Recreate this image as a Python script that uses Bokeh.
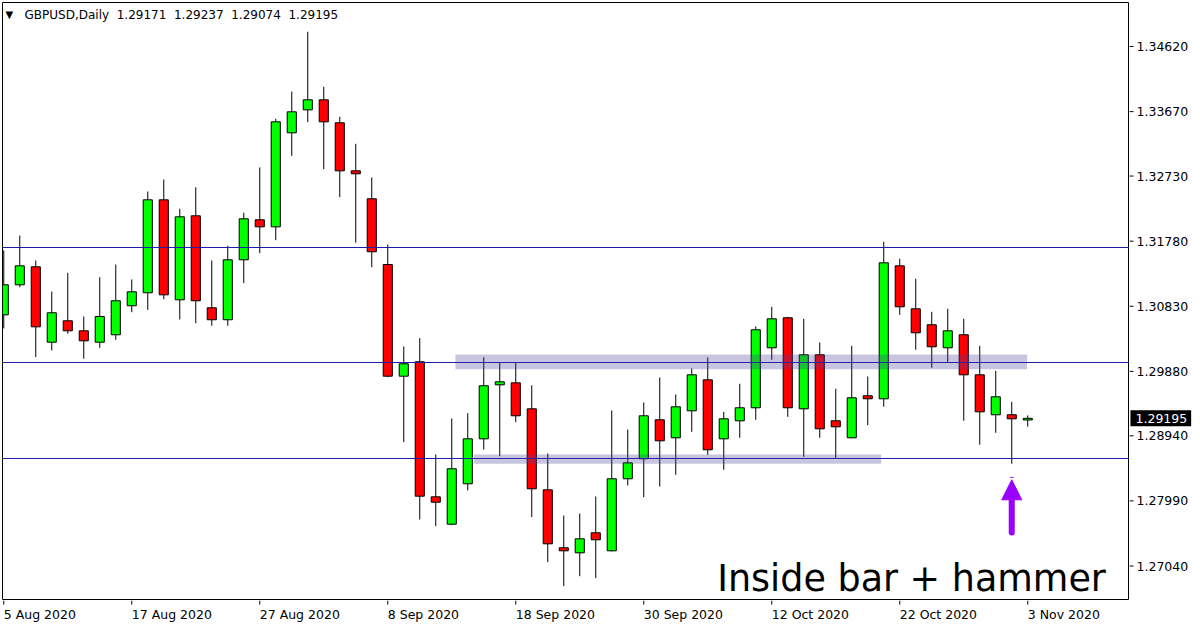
from bokeh.plotting import figure
from bokeh.layouts import column, row
from bokeh.models import (Range1d, BoxAnnotation, Label, Arrow, NormalHead,
                          ColumnDataSource)
from bokeh.core.properties import value
from bokeh.embed import file_html
from bokeh.resources import INLINE

# ---------------- data ----------------
symbol = "GBPUSD"
timeframe = "Daily"
tick_idx = [0, 8, 16, 24, 32, 40, 48, 56, 64]
tick_labels = ["5 Aug 2020", "17 Aug 2020", "27 Aug 2020", "8 Sep 2020", "18 Sep 2020",
               "30 Sep 2020", "12 Oct 2020", "22 Oct 2020", "3 Nov 2020"]
price_ticks = [1.27040, 1.27990, 1.28940, 1.29880, 1.30830, 1.31780, 1.32730, 1.33670, 1.34620]

opens = [1.30705, 1.31143, 1.31406, 1.30306, 1.30618, 1.30472, 1.30306, 1.30414, 1.30837, 1.31027,
         1.32383, 1.30924, 1.32150, 1.30808, 1.30633, 1.31508, 1.32092, 1.31989, 1.33361, 1.33696,
         1.33842, 1.33507, 1.32806, 1.32398, 1.31439, 1.29810, 1.30020, 1.28050, 1.27650, 1.28240,
         1.28896, 1.29684, 1.29713, 1.29334, 1.28152, 1.27306, 1.27233, 1.27525, 1.27262, 1.28313,
         1.28605, 1.29174, 1.28911, 1.29305, 1.29757, 1.28896, 1.29159, 1.29349, 1.30224, 1.30662,
         1.29334, 1.30122, 1.29159, 1.28911, 1.29524, 1.29480, 1.31420, 1.30793, 1.30560, 1.30224,
         1.30414, 1.29830, 1.29247, 1.29247, 1.29171]
highs = [1.31644, 1.31862, 1.31498, 1.31045, 1.31318, 1.30681, 1.31254, 1.31439, 1.31221, 1.32504,
         1.32680, 1.32252, 1.32567, 1.31498, 1.31712, 1.32194, 1.32855, 1.33565, 1.33963, 1.34835,
         1.34032, 1.33594, 1.33200, 1.32709, 1.31731, 1.30243, 1.30364, 1.28667, 1.29193, 1.29270,
         1.30087, 1.30005, 1.30005, 1.29678, 1.28682, 1.27777, 1.27806, 1.28055, 1.29309, 1.29032,
         1.29426, 1.29791, 1.29543, 1.29922, 1.30083, 1.29290, 1.29699, 1.30535, 1.30822, 1.30676,
         1.30647, 1.30301, 1.29626, 1.30253, 1.29805, 1.31771, 1.31523, 1.31231, 1.30749, 1.30793,
         1.30647, 1.30253, 1.29888, 1.29436, 1.29237]
lows = [1.30506, 1.31108, 1.30087, 1.30185, 1.30428, 1.30064, 1.30224, 1.30341, 1.30743, 1.30778,
        1.30933, 1.30637, 1.30583, 1.30545, 1.30545, 1.31167, 1.31604, 1.31794, 1.33025, 1.33516,
        1.32830, 1.32421, 1.31756, 1.31400, 1.29795, 1.28847, 1.27719, 1.27621, 1.27636, 1.28142,
        1.28740, 1.28643, 1.29139, 1.27753, 1.27096, 1.26746, 1.26892, 1.26863, 1.27252, 1.28215,
        1.28044, 1.28200, 1.28371, 1.28998, 1.28663, 1.28444, 1.28911, 1.29174, 1.30049, 1.29217,
        1.28634, 1.28911, 1.28605, 1.28905, 1.29095, 1.29363, 1.30705, 1.30195, 1.29932, 1.30005,
        1.29159, 1.28809, 1.28984, 1.28532, 1.29074]
closes = [1.31143, 1.31420, 1.30530, 1.30735, 1.30472, 1.30326, 1.30681, 1.30910, 1.31041, 1.32383,
          1.30997, 1.32135, 1.30910, 1.30633, 1.31508, 1.32106, 1.31989, 1.33521, 1.33667, 1.33842,
          1.33521, 1.32806, 1.32763, 1.31625, 1.29810, 1.29991, 1.28059, 1.27971, 1.28459, 1.28896,
          1.29670, 1.29728, 1.29232, 1.28167, 1.27364, 1.27262, 1.27437, 1.27423, 1.28313, 1.28546,
          1.29232, 1.28867, 1.29363, 1.29830, 1.28736, 1.29188, 1.29349, 1.30487, 1.30647, 1.29349,
          1.30122, 1.29042, 1.29071, 1.29495, 1.29480, 1.31464, 1.30822, 1.30443, 1.30239, 1.30472,
          1.29830, 1.29290, 1.29509, 1.29188, 1.29195]

level_lines = [1.31688, 1.30010, 1.28609]
zone_left = [28.23, 29.38]
zone_right = [63.96, 54.84]
zone_top = [1.30126, 1.28667]
zone_bottom = [1.29912, 1.28532]

note_text = "Inside bar + hammer"
note_x = 44.59
note_y = 1.26854
signal_bar = 63
arrow_tip = 1.28298
arrow_tail = 1.27529

# ---------------- styling ----------------
X_START, X_END = -0.08, 70.36
Y_START, Y_END = 1.26537, 1.35262
FONT = "DejaVu Sans"
UP, DOWN = "#00FF00", "#FF0000"
LEVEL = "#1C1CA8"
ZONE = "#4B3C96"
PURPLE = "#9900FF"

MAIN_W, MAIN_H = 1129, 600
AXIS_W, AXIS_H = 71, 27

idx = list(range(len(opens)))
src = ColumnDataSource(dict(
    x=idx, o=opens, h=highs, l=lows, c=closes,
    top=[max(a, b) for a, b in zip(opens, closes)],
    bot=[min(a, b) for a, b in zip(opens, closes)],
    col=[UP if c >= o else DOWN for o, c in zip(opens, closes)],
))

# ---------------- main chart ----------------
p = figure(width=MAIN_W, height=MAIN_H,
           x_range=Range1d(X_START, X_END), y_range=Range1d(Y_START, Y_END),
           x_axis_location=None, y_axis_location=None,
           output_backend="svg", toolbar_location=None,
           min_border_left=2, min_border_top=2, min_border_right=0, min_border_bottom=0)
p.grid.visible = False
p.outline_line_color = "black"
p.outline_line_width = 1
p.background_fill_color = "white"
p.border_fill_color = "white"

p.segment(x0="x", y0="l", x1="x", y1="h", source=src, line_color="black", line_width=1)
p.vbar(x="x", width=0.57, top="top", bottom="bot", source=src,
       fill_color="col", line_color="black", line_width=1)

for l_, r_, t_, b_ in zip(zone_left, zone_right, zone_top, zone_bottom):
    p.add_layout(BoxAnnotation(left=l_, right=r_, top=t_, bottom=b_,
                               fill_color=ZONE, fill_alpha=0.3, line_alpha=0))

p.hspan(y=level_lines, line_color=LEVEL, line_width=1)

# header
p.add_layout(Label(x=X_START, y=Y_END, x_offset=3, y_offset=-12, text="\u25BC",
                   text_font=FONT, text_font_size="10px", text_color="black",
                   text_align="left", text_baseline="middle"))
sp = "\u00a0"
header = (f"{symbol},{timeframe}{sp*2}{opens[-1]:.5f}{sp*2}{highs[-1]:.5f}"
          f"{sp*2}{lows[-1]:.5f}{sp*2}{closes[-1]:.5f}")
p.add_layout(Label(x=X_START, y=Y_END, x_offset=22, y_offset=-12, text=header,
                   text_font=FONT, text_font_size="12px", text_color="black",
                   text_align="left", text_baseline="middle"))

# note and arrow
p.add_layout(Label(x=note_x, y=note_y, text=note_text, text_font=FONT,
                   text_font_size="36.5px", text_color="black",
                   text_align="left", text_baseline="alphabetic"))
p.add_layout(Arrow(x_start=signal_bar, y_start=arrow_tail, x_end=signal_bar, y_end=arrow_tip,
                   line_color=PURPLE, line_width=6, line_cap="round",
                   end=NormalHead(size=20, fill_color=PURPLE, line_color=PURPLE, line_width=1)))

# ---------------- right price scale ----------------
pr = figure(width=AXIS_W, height=MAIN_H, x_range=Range1d(0, AXIS_W), y_range=p.y_range,
            x_axis_location=None, y_axis_location=None,
            output_backend="svg", toolbar_location=None,
            min_border_left=0, min_border_top=2, min_border_right=0, min_border_bottom=0)
pr.grid.visible = False
pr.outline_line_color = None
pr.background_fill_color = "white"
pr.border_fill_color = "white"
ysrc = ColumnDataSource(dict(y=price_ticks, lab=[f"{v:.5f}" for v in price_ticks],
                             x0=[0] * len(price_ticks), x1=[4] * len(price_ticks),
                             xt=[7] * len(price_ticks)))
pr.segment(x0="x0", y0="y", x1="x1", y1="y", source=ysrc, line_color="black", line_width=1)
pr.text(x="xt", y="y", text="lab", source=ysrc, text_font=value(FONT),
        text_font_size="12.5px", text_color="black", text_align="left", text_baseline="middle")
pr.rect(x=[31.3], y=[closes[-1]], width=[60.7], height=16, height_units="screen",
        fill_color="black", line_color=None)
pr.text(x=[6], y=[closes[-1]], text=[f"{closes[-1]:.5f}"], text_font=value(FONT),
        text_font_size="12.5px", text_color="white", text_align="left", text_baseline="middle")

# ---------------- bottom date scale ----------------
pb = figure(width=MAIN_W, height=AXIS_H, x_range=p.x_range, y_range=Range1d(0, AXIS_H),
            x_axis_location=None, y_axis_location=None,
            output_backend="svg", toolbar_location=None,
            min_border_left=2, min_border_top=0, min_border_right=0, min_border_bottom=0)
pb.grid.visible = False
pb.outline_line_color = None
pb.background_fill_color = "white"
pb.border_fill_color = "white"
xsrc = ColumnDataSource(dict(x=tick_idx, lab=tick_labels,
                             y0=[AXIS_H] * len(tick_idx), y1=[AXIS_H - 4] * len(tick_idx),
                             yt=[13.5] * len(tick_idx)))
pb.segment(x0="x", y0="y0", x1="x", y1="y1", source=xsrc, line_color="black", line_width=1)
pb.text(x="x", y="yt", text="lab", source=xsrc, text_font=value(FONT),
        text_font_size="12.5px", text_color="black", text_align="left",
        text_baseline="alphabetic")

spacer = figure(width=AXIS_W, height=AXIS_H, x_axis_location=None, y_axis_location=None,
                output_backend="svg", toolbar_location=None,
                min_border_left=0, min_border_top=0, min_border_right=0, min_border_bottom=0)
spacer.grid.visible = False
spacer.outline_line_color = None
spacer.border_fill_color = "white"
spacer.background_fill_color = "white"

layout = column(row(p, pr, spacing=0), row(pb, spacer, spacing=0), spacing=0)

open("out.html", "w").write(file_html(layout, INLINE))
